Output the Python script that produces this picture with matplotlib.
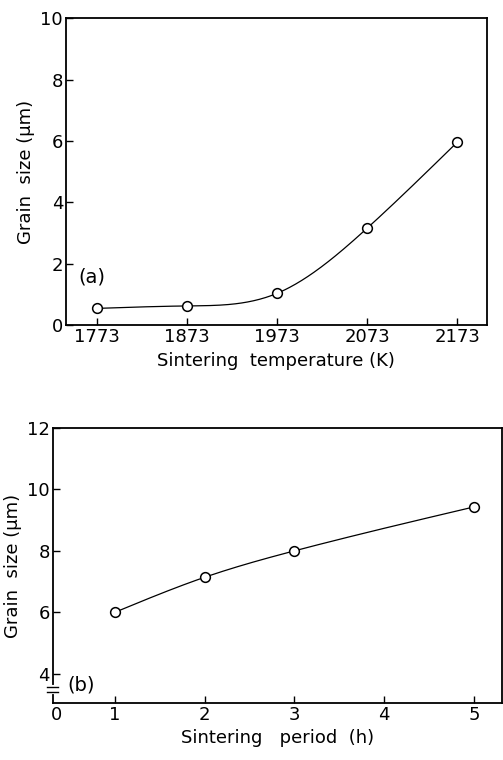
import numpy as np
import matplotlib
matplotlib.use("Agg")
import matplotlib.pyplot as plt
from matplotlib.ticker import FixedLocator, FixedFormatter

# ---- data ----
temp_K = [1773, 1873, 1973, 2073, 2173]
grain_a = [0.55, 0.63, 1.04, 3.16, 5.96]
period_h = [1, 2, 3, 5]
grain_b = [6.0, 7.14, 8.0, 9.43]
yticks_a = [0, 2, 4, 6, 8, 10]
yticks_b = [4, 6, 8, 10, 12]
xticks_b = [1, 2, 3, 4, 5]


def natural_spline(x, y, xs):
    x = np.asarray(x, float); y = np.asarray(y, float)
    n = len(x); h = np.diff(x)
    A = np.zeros((n, n)); r = np.zeros(n)
    A[0, 0] = A[-1, -1] = 1
    for i in range(1, n - 1):
        A[i, i - 1] = h[i - 1]; A[i, i] = 2 * (h[i - 1] + h[i]); A[i, i + 1] = h[i]
        r[i] = 6 * ((y[i + 1] - y[i]) / h[i] - (y[i] - y[i - 1]) / h[i - 1])
    M = np.linalg.solve(A, r)
    idx = np.clip(np.searchsorted(x, xs) - 1, 0, n - 2)
    x0 = x[idx]; x1 = x[idx + 1]; hh = h[idx]
    return (M[idx] * (x1 - xs)**3 / (6 * hh) + M[idx + 1] * (xs - x0)**3 / (6 * hh)
            + (y[idx] / hh - M[idx] * hh / 6) * (x1 - xs)
            + (y[idx + 1] / hh - M[idx + 1] * hh / 6) * (xs - x0))


plt.rcParams['font.family'] = ['DejaVu Sans']
fig = plt.figure(figsize=(5.03, 7.60), dpi=100)

FS = 13
LW_SP = 1.3

def style(ax):
    for s in ax.spines.values():
        s.set_linewidth(LW_SP)
    ax.tick_params(direction='in', length=5, width=1.0, labelsize=FS, pad=2)

# ---- panel (a) ----
axa = fig.add_axes([0.131, 0.572, 0.837, 0.404])
xs = np.linspace(temp_K[0], temp_K[-1], 300)
axa.plot(xs, natural_spline(temp_K, grain_a, xs), color='black', lw=0.9)
axa.plot(temp_K, grain_a, 'o', ms=7, mfc='white', mec='black', mew=1.1)
axa.set_xlim(1738.6, 2206)
axa.set_ylim(0, 10)
axa.set_xticks(temp_K)
axa.set_yticks(yticks_a)
style(axa)
axa.set_xlabel('Sintering  temperature (K)', fontsize=FS, labelpad=4)
axa.set_ylabel('Grain  size (μm)', fontsize=FS, labelpad=4)
axa.text(1752, 1.56, '(a)', fontsize=FS + 1, va='center', ha='left')

# ---- panel (b) ----
axb = fig.add_axes([0.105, 0.075, 0.893, 0.362])
xs = np.linspace(period_h[0], period_h[-1], 300)
axb.plot(xs, natural_spline(period_h, grain_b, xs), color='black', lw=0.9)
axb.plot(period_h, grain_b, 'o', ms=7, mfc='white', mec='black', mew=1.1)
x0b = 0.31
axb.set_xlim(x0b, 5.31)
axb.set_ylim(3.05, 12)
axb.xaxis.set_major_locator(FixedLocator([x0b + 0.04] + xticks_b))
axb.xaxis.set_major_formatter(FixedFormatter(['0'] + [str(v) for v in xticks_b]))
axb.set_yticks(yticks_b)
style(axb)
axb.get_xticklines()[0].set_visible(False)
axb.get_xticklines()[1].set_visible(False)
axb.set_xlabel('Sintering   period  (h)', fontsize=FS, labelpad=4)
axb.set_ylabel('Grain  size (μm)', fontsize=FS, labelpad=4)
axb.text(0.47, 3.64, '(b)', fontsize=FS + 1, va='center', ha='left')

# axis break marks on the y axis of (b)
trans = axb.get_yaxis_transform()
axb.plot([0, 0], [3.42, 3.58], transform=trans, color='white', lw=3, clip_on=False, zorder=5)
for yb in [3.42, 3.58]:
    axb.plot([-0.012, 0.012], [yb, yb], transform=trans, color='black', lw=1.0,
             clip_on=False, zorder=6)

fig.savefig('out.png', dpi=100)
